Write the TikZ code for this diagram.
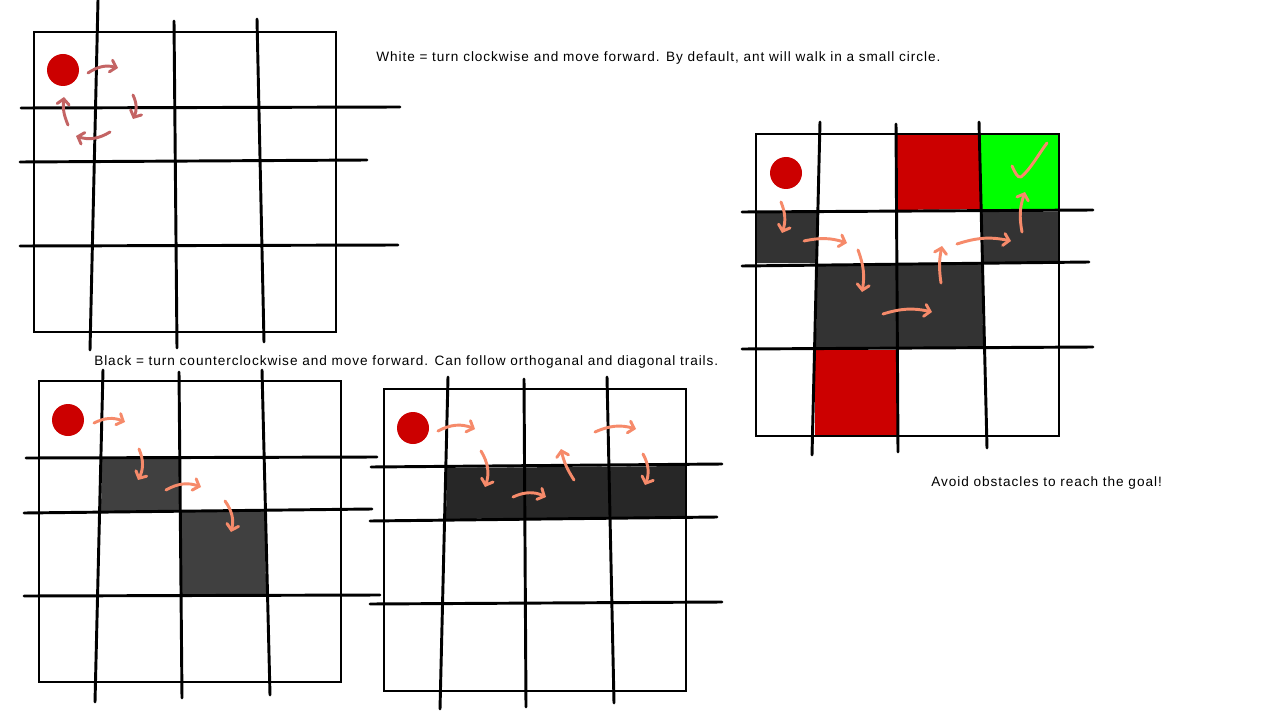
\documentclass[tikz,border=0pt]{standalone}
\usepackage{fontspec}
\setmainfont{Liberation Sans}
\newfontfamily\lblfont[LetterSpace=7]{Liberation Sans}
\usetikzlibrary{arrows.meta}
\definecolor{dotred}{HTML}{CC0000}
\definecolor{rosy}{HTML}{C46464}
\definecolor{salmon}{HTML}{F68A6A}
\definecolor{darkA}{HTML}{404040}
\definecolor{darkB}{HTML}{272727}
\definecolor{darkC}{HTML}{333333}
\definecolor{goal}{HTML}{00FF00}
\tikzset{
  gl/.style={line width=2.2pt, black, line cap=round},
  boxl/.style={line width=2.2pt, black},
  ant/.style={circle, fill=dotred, minimum size=24pt, inner sep=0pt},
  arrrosy/.style={line width=2.2pt, rosy, line cap=round, -{Straight Barb[length=4pt,width=9pt,line cap=round]}},
  arrsal/.style={line width=2.2pt, salmon, line cap=round, -{Straight Barb[length=4pt,width=9pt,line cap=round]}},
  lbl/.style={anchor=west, inner sep=0pt, font=\lblfont\fontsize{10.2}{12}\selectfont}
}
\begin{document}
\begin{tikzpicture}[x=0.75pt,y=-0.75pt]
\useasboundingbox (0,0) rectangle (1280,720);
\fill[white] (0,0) rectangle (1280,720);

% ---------------- Grid 1 (top-left) ----------------
\draw[boxl] (34,32) rectangle (336,332);
\draw[gl] (98,0) -- (90,350);
\draw[gl] (174,21) -- (177,348);
\draw[gl] (257,19) -- (264,342);
\draw[gl] (21,108) -- (400,107);
\draw[gl] (20,162) -- (367,160);
\draw[gl] (20,246) -- (398,245);
\node[ant] (ant1) at (63,70) {};
\draw[arrrosy] (88,73) to[bend left=25] (118,68);
\draw[arrrosy] (133,95) to[bend left=25] (133,119);
\draw[arrrosy] (110,132) to[bend left=25] (76,136);
\draw[arrrosy] (68,125) to[bend left=15] (64,97);

\node[lbl] (t1) at (376,58) {White = turn clockwise and move forward. By default, ant will walk in a small circle.};

% ---------------- Grid 2 (bottom-left) ----------------
\fill[darkA] (102,459) -- (179,459) -- (179,510) -- (101,512) -- cycle;
\fill[darkA] (181,511) -- (265,511) -- (266,595) -- (182,595) -- cycle;
\draw[boxl] (39,381) rectangle (341,682);
\draw[gl] (103,370) -- (95,702);
\draw[gl] (179,372) -- (182,698);
\draw[gl] (262,370) -- (270,695);
\draw[gl] (26,458) -- (377,457);
\draw[gl] (24,513) -- (372,509);
\draw[gl] (24,596) -- (380,595);
\node[ant] (ant2) at (68,420) {};
\draw[arrsal] (94,423) to[bend left=25] (125,422);
\draw[arrsal] (139,449) to[bend left=25] (138,480);
\draw[arrsal] (166,490) to[bend left=25] (201,487);
\draw[arrsal] (225,501) to[bend left=25] (231,532);

\node[lbl] (t2) at (94,362) {Black = turn counterclockwise and move forward. Can follow orthoganal and diagonal trails.};

% ---------------- Grid 3 (bottom-middle) ----------------
\fill[darkB] (447,468) -- (686,466) -- (686,517) -- (446,519) -- cycle;
\draw[boxl] (384,389) rectangle (686,691);
\draw[gl] (448,377) -- (440,709);
\draw[gl] (524,379) -- (526,707);
\draw[gl] (607,377) -- (614,703);
\draw[gl] (371,467) -- (722,464);
\draw[gl] (370,521) -- (717,517);
\draw[gl] (370,604) -- (722,602);
\node[ant] (ant3) at (413,428) {};
\draw[arrsal] (438,431) to[bend left=25] (475,429);
\draw[arrsal] (481,451) to[bend left=25] (485,487);
\draw[arrsal] (513,497) to[bend left=25] (546,497);
\draw[arrsal] (574,480) to[bend left=10] (561,449);
\draw[arrsal] (595,432) to[bend left=20] (636,429);
\draw[arrsal] (643,454) to[bend left=25] (645,485);

% ---------------- Grid 4 (right) ----------------
\fill[dotred] (897,135) -- (979,135) -- (981,209) -- (897,210) -- cycle;
\fill[goal] (981,135) -- (1058,135) -- (1058,209) -- (981,209) -- cycle;
\fill[darkC] (756,212) -- (818,212) -- (817,263) -- (756,263) -- cycle;
\fill[darkC] (982,212) -- (1058,212) -- (1058,262) -- (983,262) -- cycle;
\fill[darkC] (817,266) -- (982,264) -- (983,347) -- (816,348) -- cycle;
\fill[dotred] (815,350) -- (897,350) -- (897,435) -- (815,435) -- cycle;
\draw[boxl] (756,134) rectangle (1059,436);
\draw[gl] (820,122) -- (812,455);
\draw[gl] (896,124) -- (898,452);
\draw[gl] (979,122) -- (987,448);
\draw[gl] (742,212) -- (1093,210);
\draw[gl] (742,266) -- (1089,262);
\draw[gl] (742,349) -- (1093,347);
\node[ant] (ant4) at (786,173) {};
\draw[arrsal] (781,202) to[bend left=20] (782,233);
\draw[arrsal] (804,241) to[bend left=15] (847,243);
\draw[arrsal] (858,250) to[bend left=15] (862,292);
\draw[arrsal] (883,314) to[bend left=15] (932,312);
\draw[arrsal] (941,283) to[bend left=10] (942,246);
\draw[arrsal] (957,244) to[bend left=15] (1011,241);
\draw[arrsal] (1022,232) to[bend left=15] (1025,192);
\draw[line width=2.2pt, salmon, line cap=round, line join=round] (1012,166) .. controls (1015,172) and (1017,178) .. (1021,177) .. controls (1030,170) and (1040,152) .. (1047,143);

\node[lbl] (t3) at (931,483) {Avoid obstacles to reach the goal!};
\end{tikzpicture}
\end{document}
